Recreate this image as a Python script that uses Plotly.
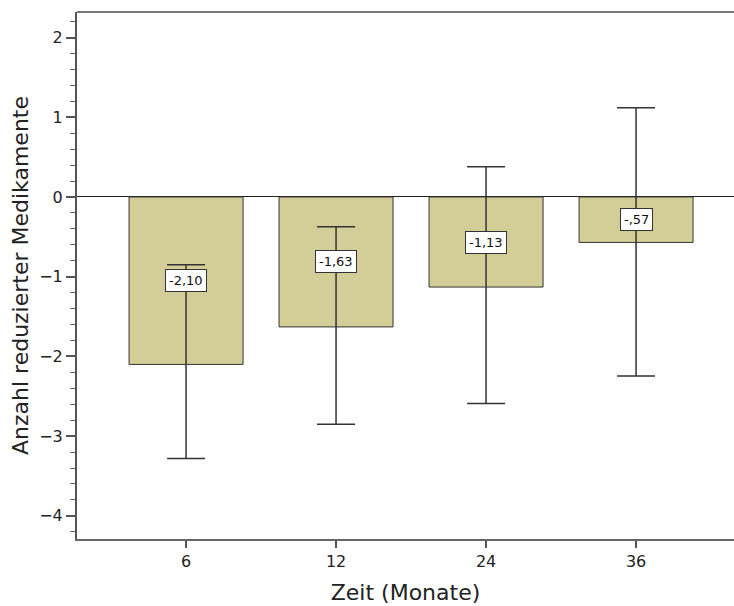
import plotly.graph_objects as go

# Mean change in number of medications per follow-up time point
zeit_labels = ["6", "12", "24", "36"]
mittelwerte = [-2.10, -1.63, -1.13, -0.57]
ci_oben = [-0.85, -0.375, 0.38, 1.12]
ci_unten = [-3.28, -2.85, -2.59, -2.245]

BAR_FILL = "#D3CE97"
FONT = "DejaVu Sans"


def spss_format(v):
    """German decimal comma, no leading zero (e.g. -,57)."""
    s = f"{abs(v):.2f}".replace(".", ",")
    if s.startswith("0"):
        s = s[1:]
    return ("-" if v < 0 else "") + s


err_plus = [o - m for o, m in zip(ci_oben, mittelwerte)]
err_minus = [m - u for m, u in zip(mittelwerte, ci_unten)]
x_pos = list(range(len(zeit_labels)))

fig = go.Figure()
fig.add_trace(go.Bar(
    x=x_pos,
    y=mittelwerte,
    width=0.76,
    marker=dict(color=BAR_FILL, line=dict(color="#333333", width=1)),
    error_y=dict(
        type="data", symmetric=False,
        array=err_plus, arrayminus=err_minus,
        color="#333333", thickness=1.5, width=19,
    ),
    hoverinfo="skip",
))

# value labels, centred at half the bar height
for xi, v in zip(x_pos, mittelwerte):
    fig.add_annotation(
        x=xi, y=v / 2, text=spss_format(v), showarrow=False,
        font=dict(family=FONT, size=13, color="#111111"),
        bgcolor="white", bordercolor="#333333", borderwidth=1, borderpad=3,
    )

# top frame line
fig.add_shape(type="line", xref="paper", yref="paper", x0=0, x1=1, y0=1, y1=1,
              line=dict(color="#777777", width=2))

fig.update_layout(
    width=734, height=606,
    margin=dict(l=77, r=0, t=12, b=67),
    plot_bgcolor="white", paper_bgcolor="white",
    showlegend=False,
    font=dict(family=FONT, color="#222222"),
)

fig.update_xaxes(
    range=[-0.727, 3.653],
    tickmode="array", tickvals=x_pos, ticktext=zeit_labels,
    ticks="outside", ticklen=7, tickwidth=1.5, tickcolor="#555555",
    tickfont=dict(size=16, family=FONT, color="#222222"),
    showline=True, linecolor="#666666", linewidth=2,
    showgrid=False, zeroline=False,
    title=dict(text="Zeit (Monate)", font=dict(size=22, family=FONT, color="#222222"), standoff=14),
)

fig.update_yaxes(
    range=[-4.29, 2.32],
    tickmode="linear", tick0=0, dtick=1,
    ticks="outside", ticklen=9, tickwidth=1.5, tickcolor="#555555",
    minor=dict(dtick=0.2, tick0=0, ticks="outside", ticklen=5, tickwidth=1.2, tickcolor="#666666", showgrid=False),
    tickfont=dict(size=16, family=FONT, color="#222222"),
    showline=True, linecolor="#555555", linewidth=2,
    showgrid=False,
    zeroline=True, zerolinecolor="#222222", zerolinewidth=1,
    title=dict(text="Anzahl reduzierter Medikamente", font=dict(size=22, family=FONT, color="#222222"), standoff=5),
)

fig.write_html("out.html")
